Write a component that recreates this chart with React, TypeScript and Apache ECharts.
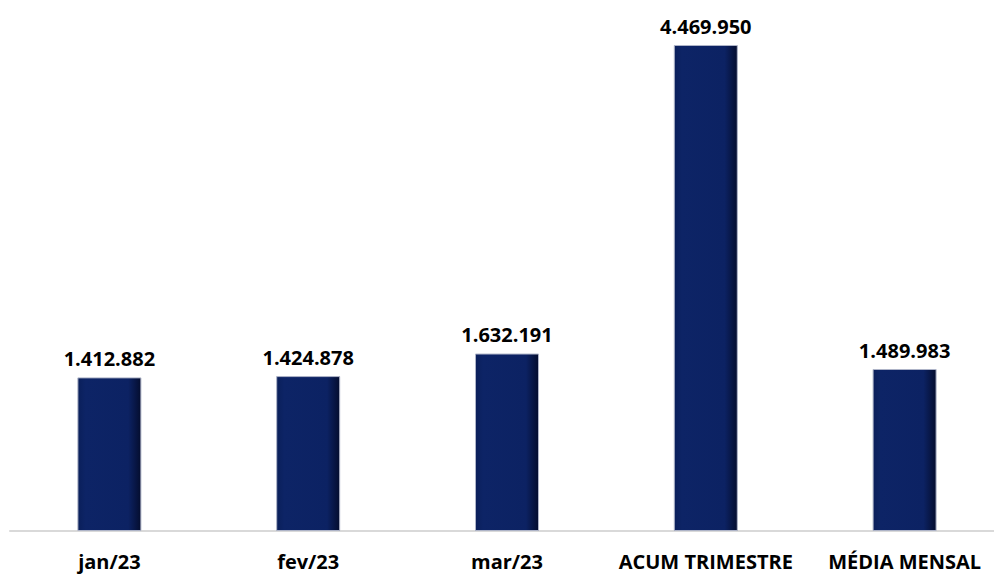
import React, { useEffect, useRef } from "react";
import * as echarts from "echarts";

const categories = ["jan/23", "fev/23", "mar/23", "ACUM TRIMESTRE", "MÉDIA MENSAL"];
const values = [1412882, 1424878, 1632191, 4469950, 1489983];

const fmt = (v: number) => v.toLocaleString("de-DE");

export default function App() {
  const ref = useRef<HTMLDivElement>(null);
  useEffect(() => {
    document.body.style.margin = "0";
    document.body.style.overflow = "hidden";
    const chart = echarts.init(ref.current!, undefined, { renderer: "svg" });
    chart.setOption({
      animation: false,
      grid: { left: 10, right: 0, top: 45, bottom: 44 },
      xAxis: {
        type: "category",
        data: categories,
        axisLine: { lineStyle: { color: "#d9d9d9", width: 2 } },
        axisTick: { show: false },
        axisLabel: {
          interval: 0,
          color: "#000",
          fontWeight: "bold",
          fontSize: 20,
          fontFamily: "Open Sans",
          margin: 20,
        },
      },
      yAxis: {
        type: "value",
        min: 0,
        max: 4469950,
        show: false,
        splitLine: { show: false },
      },
      series: [
        {
          type: "bar",
          data: values,
          barWidth: 64,
          itemStyle: {
            color: new echarts.graphic.LinearGradient(0, 0, 1, 0, [
              { offset: 0, color: "#0a1f5a" },
              { offset: 0.12, color: "#0d2466" },
              { offset: 0.8, color: "#0c2263" },
              { offset: 1, color: "#040d2e" },
            ]),
            borderColor: "#aeb4c8",
            borderWidth: 1,
          },
          label: {
            show: true,
            position: "top",
            distance: 9,
            formatter: (p: any) => fmt(p.value),
            color: "#000",
            fontWeight: "bold",
            fontSize: 20,
            fontFamily: "Open Sans",
          },
        },
      ],
    });
    return () => chart.dispose();
  }, []);
  return (
    <div style={{ width: 994, height: 575, overflow: "hidden" }}>
      <div ref={ref} style={{ width: 1004, height: 575 }} />
    </div>
  );
}
